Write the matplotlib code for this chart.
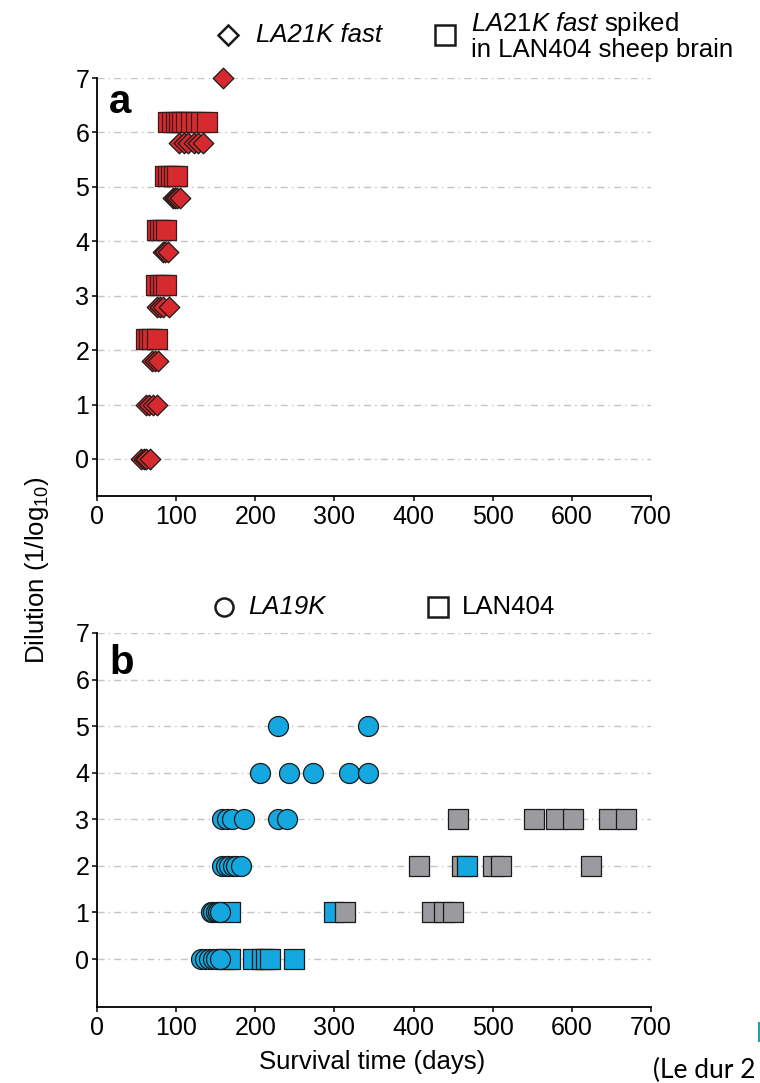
import matplotlib.pyplot as plt
from matplotlib.lines import Line2D
from matplotlib.patches import Rectangle

plt.rcParams['font.family'] = ['Liberation Sans', 'DejaVu Sans']
plt.rcParams['mathtext.fontset'] = 'custom'
plt.rcParams['mathtext.rm'] = 'Liberation Sans'
plt.rcParams['mathtext.it'] = 'Liberation Sans:italic'
plt.rcParams['mathtext.bf'] = 'Liberation Sans:bold'

# panel a: LA21K fast (diamonds) / LA21K fast spiked in LAN404 brain (squares)
a_fast_dil = [0, 1, 2, 3, 4, 5, 6, 7]
a_fast_days = [[56, 59, 62, 67], [62, 66, 71, 76], [70, 73, 77], [76, 79, 83, 91],
               [83, 86, 90], [96, 99, 101, 105], [103, 110, 115, 122, 127, 134], [159]]
a_spiked_dil = [2, 3, 4, 5, 6]
a_spiked_days = [[62, 66, 70, 76], [75, 79, 83, 87], [76, 80, 83, 87],
                 [86, 90, 93, 97, 101], [90, 95, 100, 103, 108, 113, 119, 125, 132, 139]]

# panel b: LA19K (circles), squares cyan / grey (LAN404)
b_la19k_dil = [0, 1, 2, 3, 4, 5]
b_la19k_days = [[132, 137, 141, 146, 150, 155], [144, 147, 150, 153, 156],
                [158, 163, 167, 172, 176, 182], [158, 164, 171, 186, 229, 240],
                [206, 243, 273, 318, 343], [229, 343]]
b_sq_dil = [0, 1, 2, 3]
b_sq_cyan = [[163, 168, 197, 208, 214, 218, 249], [168, 300], [468], []]
b_sq_grey = [[], [313, 423, 438, 450], [407, 461, 500, 511, 624],
             [456, 552, 580, 601, 647, 668]]

RED = '#d62a2e'
CYAN = '#14a7e0'
GREY = '#9b9b9f'
EDGE = '#1a1a1a'
W, H = 760, 1083


def fx(x):
    return x / W


def fy(y):
    return 1 - y / H


def style_axes(ax, ymin):
    ax.set_xlim(0, 700)
    ax.set_ylim(ymin, 7)
    ax.set_xticks(range(0, 701, 100))
    ax.set_yticks(range(0, 8))
    ax.spines['top'].set_visible(False)
    ax.spines['right'].set_visible(False)
    ax.spines['left'].set_linewidth(1.3)
    ax.spines['bottom'].set_linewidth(1.3)
    ax.tick_params(direction='out', length=3.5, width=1.1, labelsize=18, pad=3)
    ax.tick_params(axis='y', pad=2)
    ax.yaxis.grid(True, color='#c4c4c4', lw=1, linestyle=(0, (5, 3, 1, 3)))
    ax.set_axisbelow(True)


fig = plt.figure(figsize=(7.6, 10.83), dpi=100)

ax1 = fig.add_axes([fx(97), fy(496), 554 / W, 418 / H])
style_axes(ax1, -0.68)

# diamonds shifted down / squares up where both series share a dilution
for d, days in zip(a_fast_dil, a_fast_days):
    off = -0.2 if d in a_spiked_dil else 0
    ax1.scatter(days, [d + off] * len(days), marker='D', s=110, c=RED,
                edgecolors=EDGE, linewidths=0.9, zorder=3, clip_on=False)
for d, days in zip(a_spiked_dil, a_spiked_days):
    ax1.scatter(days, [d + 0.2] * len(days), marker='s', s=207, c=RED,
                edgecolors='#3a1a1a', linewidths=0.9, zorder=4, clip_on=False)

ax2 = fig.add_axes([fx(97), fy(1007), 554 / W, 374 / H])
style_axes(ax2, -1.03)

for d, cy, gr in zip(b_sq_dil, b_sq_cyan, b_sq_grey):
    pts = sorted([(x, CYAN) for x in cy] + [(x, GREY) for x in gr])
    if pts:
        ax2.scatter([p[0] for p in pts], [d] * len(pts), marker='s', s=207,
                    c=[p[1] for p in pts], edgecolors=EDGE, linewidths=0.9, zorder=3)
for d, days in zip(b_la19k_dil, b_la19k_days):
    ax2.scatter(days, [d] * len(days), marker='o', s=207, c=CYAN,
                edgecolors=EDGE, linewidths=0.9, zorder=4)

# panel letters
fig.text(fx(109), fy(113), 'a', fontsize=29, fontweight='bold', va='baseline')
fig.text(fx(109), fy(674), 'b', fontsize=29, fontweight='bold', va='baseline')

# legends
def legend_marker(x, y, marker, ms):
    fig.add_artist(Line2D([fx(x)], [fy(y)], marker=marker, ms=ms, mfc='white',
                          mec=EDGE, mew=1.8, ls='none', transform=fig.transFigure))


legend_marker(228, 35, 'D', 10.5)
fig.text(fx(256), fy(35), 'LA21K fast', fontsize=18.5, style='italic', va='center')
legend_marker(445, 35, 's', 14)
fig.text(fx(471), fy(36), '$\\mathit{LA21K\\ fast}$ spiked\nin LAN404 sheep brain',
         fontsize=18.5, va='center', linespacing=1.05)

legend_marker(224, 607, 'o', 13)
fig.text(fx(248), fy(607), 'LA19K', fontsize=18.5, style='italic', va='center')
legend_marker(438, 607, 's', 14)
fig.text(fx(462), fy(607), 'LAN404', fontsize=18.5, va='center')

# axis titles
fig.text(fx(37), fy(570), 'Dilution (1/log$_{10}$)', fontsize=18.5,
         rotation=90, ha='center', va='center')
fig.text(fx(372), fy(1062), 'Survival time (days)', fontsize=18.5,
         ha='center', va='center')

# slide caption fragments at the right edge
fig.text(fx(653), fy(1078), '(Le dur 2', fontsize=19, family='Lato', va='baseline')
fig.add_artist(Rectangle((fx(757.5), fy(1042)), 2.5 / W, 20 / H,
                         transform=fig.transFigure, color='#2b9fa6', lw=0))

fig.savefig('out.png', dpi=100)
